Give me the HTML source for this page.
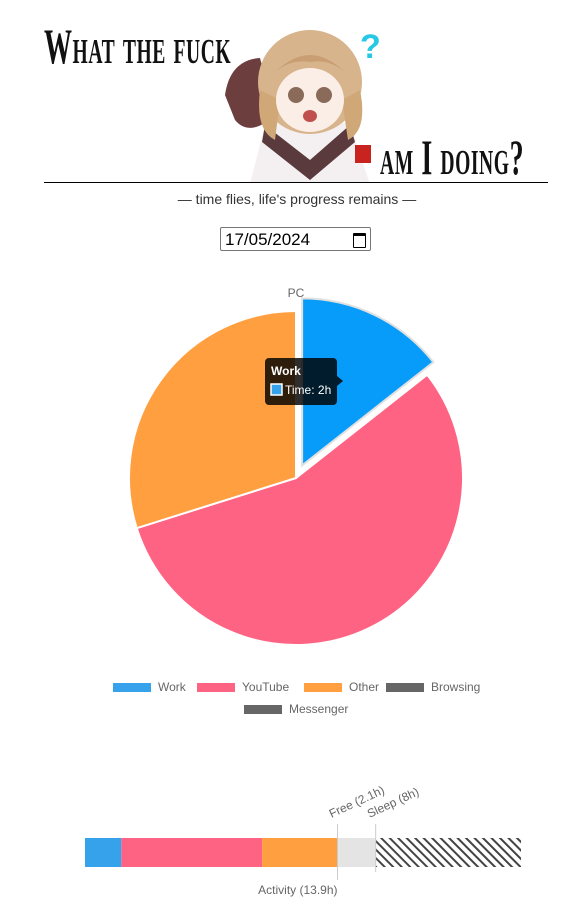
<!DOCTYPE html>
<html><head><meta charset="utf-8">
<style>
body{margin:0;width:581px;height:918px;background:#fff;position:relative;overflow:hidden;font-family:"Liberation Sans",sans-serif}
.t{position:absolute;font-family:"Liberation Serif",serif;font-size:50px;font-weight:bold;color:#111;transform:scaleX(0.56);transform-origin:left top;letter-spacing:1px;font-variant:small-caps;white-space:nowrap}
</style></head><body>
<div class="t" style="left:44px;top:17px">What the fuck</div>
<div class="t" style="left:380px;top:128px">am I doing?</div>
<svg style="position:absolute;left:220px;top:20px" width="170" height="163">
<path d="M30 164 L45 105 L90 92 L130 105 L150 164Z" fill="#f4f0f2"/>
<path d="M45 105 L90 140 L130 105 L135 122 L90 160 L42 122Z" fill="#5a3a3c"/>
<path d="M5 75 Q10 40 40 38 L55 95 Q30 118 15 100Z" fill="#6d3e3e"/>
<ellipse cx="90" cy="62" rx="52" ry="52" fill="#d8b48c"/>
<path d="M40 70 Q35 110 55 120 L60 80Z M140 70 Q148 110 128 120 L122 80Z" fill="#d0a878"/>
<ellipse cx="90" cy="80" rx="34" ry="32" fill="#fbeee6"/>
<path d="M48 60 Q90 10 132 60 Q115 38 90 42 Q65 38 48 60Z" fill="#c99e72"/>
<circle cx="76" cy="75" r="8" fill="#8a6a58"/><circle cx="104" cy="75" r="8" fill="#8a6a58"/>
<ellipse cx="90" cy="96" rx="7" ry="6" fill="#c0504d"/>
<rect x="135" y="125" width="16" height="18" fill="#c8231f"/>
<text x="140" y="38" font-size="34" font-weight="bold" fill="#27c8e6" font-family="Liberation Sans">?</text>
</svg>
<div style="position:absolute;left:44px;top:182px;width:504px;height:1px;background:#000"></div>
<div style="position:absolute;left:0;width:594px;top:191px;text-align:center;font-size:14px;color:#333">— time flies, life's progress remains —</div>
<div style="position:absolute;left:220px;top:227px;width:151px;height:24px;border:1px solid #767676;border-radius:2px;font-size:17px;line-height:24px;padding-left:4px;box-sizing:border-box;color:#000">17/05/2024<span style="position:absolute;right:4px;top:5px;width:11px;height:11px;border:1.5px solid #000;border-top-width:3px;border-radius:1px"></span></div>
<svg id="chart" width="581" height="918" style="position:absolute;left:0;top:0"></svg>
<script>
const categories=["Work","YouTube","Other","Browsing","Messenger"];
const hours=[2,7.75,4.15,0,0];
const colors=["#36a2eb","#ff6384","#ff9f40","#666666","#666666"];
const freeHours=[2.1];
const sleepHours=[8];
const NS="http://www.w3.org/2000/svg";
const svg=document.getElementById('chart');
function mk(t,a,p){const e=document.createElementNS(NS,t);for(const k in a)e.setAttribute(k,a[k]);(p||svg).appendChild(e);return e;}
const defs=mk('defs',{});
const pat=mk('pattern',{id:'hatch',width:6,height:6,patternUnits:'userSpaceOnUse',patternTransform:'rotate(-45)'},defs);
mk('rect',{width:6,height:6,fill:'#fff'},pat);mk('rect',{width:2,height:6,fill:'#444'},pat);
const cx=296,cy=478,r=167;
const total=hours.reduce((a,b)=>a+b,0);
function angPt(a,rr,ox,oy){return [ox+rr*Math.sin(a),oy-rr*Math.cos(a)];}
let a0=0;
const t=mk('text',{x:296,y:297,'text-anchor':'middle','font-size':12,fill:'#666'});t.textContent='PC';


hours.forEach((h,i)=>{
  if(h<=0)return;
  const a1=a0+h/total*2*Math.PI;
  let ox=cx,oy=cy;
  if(i===0){const m=(a0+a1)/2;ox=cx+14*Math.sin(m);oy=cy-14*Math.cos(m);}
  const p0=angPt(a0,r,ox,oy),p1=angPt(a1,r,ox,oy);
  const large=(a1-a0)>Math.PI?1:0;
  const p=mk('path',{d:`M${ox} ${oy}L${p0[0]} ${p0[1]}A${r} ${r} 0 ${large} 1 ${p1[0]} ${p1[1]}Z`,fill:i===0?'#079cfa':colors[i],stroke:i===0?'#e0e0e0':'#fff','stroke-width':2});
  
  
  a0=a1;
});
const tg=mk('g',{});


mk('rect',{x:265,y:358,width:72,height:47,rx:4,fill:'rgba(0,0,0,0.82)'},tg);
mk('path',{d:'M337 376 L343 381 L337 386Z',fill:'rgba(0,0,0,0.82)'},tg);
let tt=mk('text',{x:271,y:375,'font-size':12,'font-weight':'bold',fill:'#fff'},tg);tt.textContent=categories[0];
mk('rect',{x:271,y:384,width:11,height:11,fill:colors[0],stroke:'#fff','stroke-width':1.5},tg);
tt=mk('text',{x:285,y:394,'font-size':12,fill:'#fff'},tg);tt.textContent='Time: '+hours[0]+'h';
const lg=[[113,687],[197,687],[304,687],[386,687],[244,709]];
categories.forEach((c,i)=>{
  const g=mk('g',{});
  
  
  mk('rect',{x:lg[i][0],y:lg[i][1]-4,width:38,height:9,fill:colors[i]},g);
  const tx=mk('text',{x:lg[i][0]+45,y:lg[i][1]+4,'font-size':12,fill:'#666'},g);tx.textContent=c;
});
const bx=85,bw=436,by=838,bh=29,pph=bw/24;
const x=h=>bx+h*pph;
let acc=0;
hours.forEach((h,i)=>{if(h<=0)return;const rc=mk('rect',{x:x(acc),y:by,width:h*pph,height:bh,fill:colors[i]});

acc+=h;});
const act=acc;
const fr=mk('rect',{x:x(acc),y:by,width:freeHours[0]*pph,height:bh,fill:'#e4e4e4'});


acc+=freeHours[0];
const sl=mk('rect',{x:x(acc),y:by,width:sleepHours[0]*pph,height:bh,fill:'url(#hatch)'});


mk('line',{x1:x(act),y1:824,x2:x(act),y2:880,stroke:'#ccc'});
mk('line',{x1:x(acc),y1:824,x2:x(acc),y2:872,stroke:'#ccc'});
let l=mk('text',{x:x(act),y:894,'text-anchor':'end','font-size':12,fill:'#666'});l.textContent='Activity ('+Math.round(act*10)/10+'h)';


l=mk('text',{x:0,y:0,'font-size':12,fill:'#666',transform:`translate(${x(act)-6},${818}) rotate(-25)`});l.textContent='Free ('+freeHours[0]+'h)';


l=mk('text',{x:0,y:0,'font-size':12,fill:'#666',transform:`translate(${x(acc)-6},${818}) rotate(-25)`});l.textContent='Sleep ('+sleepHours[0]+'h)';


</script>
</body></html>
